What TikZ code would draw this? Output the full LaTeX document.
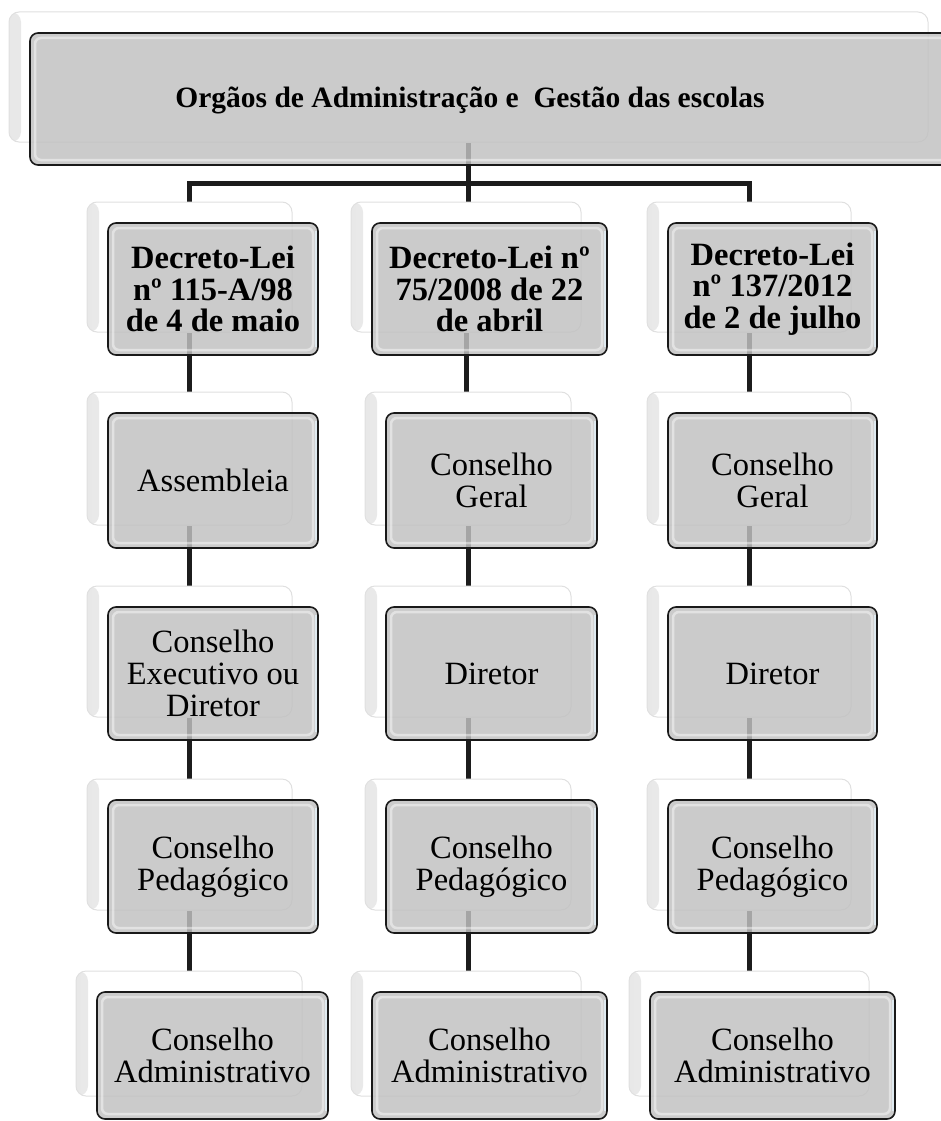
\documentclass[tikz,border=0pt]{standalone}
\usepackage{fontspec}
\setmainfont{Liberation Serif}
\usetikzlibrary{backgrounds}
\definecolor{mainfill}{RGB}{193,193,193}
\definecolor{connc}{RGB}{28,28,28}
\definecolor{bevel}{RGB}{225,238,245}
\newcommand\orgbox[7]{%
  \node[backbox, minimum width={#4-#2-5}, minimum height={#5-#3-2}] (#1b) at ({(#2+#4)/2-23.5},{(#3+#5)/2-22}) {};
  \node[mainbox, #7, minimum width={#4-#2}, minimum height={#5-#3}] (#1) at ({(#2+#4)/2},{(#3+#5)/2}) {#6};
}
\begin{document}
\begin{tikzpicture}[x=1pt,y=-1pt,
  backbox/.style={draw=black!12, line width=1pt, fill=white, rounded corners=10pt, inner sep=0pt,
    path picture={\shade[left color=black!9, right color=white]
      (path picture bounding box.south west) rectangle ([xshift=12pt]path picture bounding box.north west);}},
  mainbox/.style={draw=black!90, line width=1.6pt, fill=mainfill, fill opacity=0.83, text opacity=1,
    rounded corners=8pt, inner sep=0pt, align=center,
    path picture={
      \draw[white, opacity=0.45, line width=2.5pt, rounded corners=6pt]
        ([xshift=5pt,yshift=-5pt]path picture bounding box.north west) rectangle
        ([xshift=-5pt,yshift=5pt]path picture bounding box.south east);
      \draw[bevel, opacity=0.9, line width=2pt]
        ([xshift=-2pt,yshift=-8pt]path picture bounding box.north east) --
        ([xshift=-2pt,yshift=8pt]path picture bounding box.south east);}},
  boldtxt/.style={font=\bfseries\fontsize{32.5}{31.5}\selectfont},
  regtxt/.style={font=\fontsize{32.5}{32}\selectfont},
  conn/.style={draw=connc, line width=5pt}
]
\useasboundingbox (0,0) rectangle (941,1121);

% top box
\orgbox{top}{30}{33}{954}{165}{}{}
\node[font=\bfseries\fontsize{29.5}{32}\selectfont, inner sep=0pt] (title) at (470,100) {Orgãos de Administração e\ \ Gestão das escolas};

% row 1
\orgbox{c1r1}{108}{223}{318}{355}{Decreto-Lei\\nº 115-A/98\\de 4 de maio}{boldtxt}
\orgbox{c2r1}{372}{223}{607}{355}{Decreto-Lei nº\\75/2008 de 22\\de abril}{boldtxt}
\orgbox{c3r1}{668}{223}{877}{355}{Decreto-Lei\\nº 137/2012\\de 2 de julho}{boldtxt}
% row 2
\orgbox{c1r2}{108}{413}{318}{548}{Assembleia}{regtxt}
\orgbox{c2r2}{386}{413}{597}{548}{Conselho\\Geral}{regtxt}
\orgbox{c3r2}{668}{413}{877}{548}{Conselho\\Geral}{regtxt}
% row 3
\orgbox{c1r3}{108}{607}{318}{740}{Conselho\\Executivo ou\\Diretor}{regtxt}
\orgbox{c2r3}{386}{607}{597}{740}{Diretor}{regtxt}
\orgbox{c3r3}{668}{607}{877}{740}{Diretor}{regtxt}
% row 4
\orgbox{c1r4}{108}{800}{318}{933}{Conselho\\Pedagógico}{regtxt}
\orgbox{c2r4}{386}{800}{597}{933}{Conselho\\Pedagógico}{regtxt}
\orgbox{c3r4}{668}{800}{877}{933}{Conselho\\Pedagógico}{regtxt}
% row 5
\orgbox{c1r5}{97}{992}{328}{1119}{Conselho\\Administrativo}{regtxt}
\orgbox{c2r5}{372}{992}{607}{1119}{Conselho\\Administrativo}{regtxt}
\orgbox{c3r5}{650}{992}{895}{1119}{Conselho\\Administrativo}{regtxt}

\begin{scope}[on background layer]
  \draw[conn] (topb.south) -- ++(0,41) coordinate (j);
  \draw[conn] (c1r1b.north) |- (j) -| (c3r1b.north);
  \draw[conn] (j) -- (j |- c2r1b.north);
  \foreach \c in {c1,c2,c3}{
    \draw[conn] (\c r1b.south) -- (\c r1b.south |- \c r2b.north);
    \draw[conn] (\c r2b.south) -- (\c r2b.south |- \c r3b.north);
    \draw[conn] (\c r3b.south) -- (\c r3b.south |- \c r4b.north);
    \draw[conn] (\c r4b.south) -- (\c r4b.south |- \c r5b.north);
  }
\end{scope}
\end{tikzpicture}
\end{document}
